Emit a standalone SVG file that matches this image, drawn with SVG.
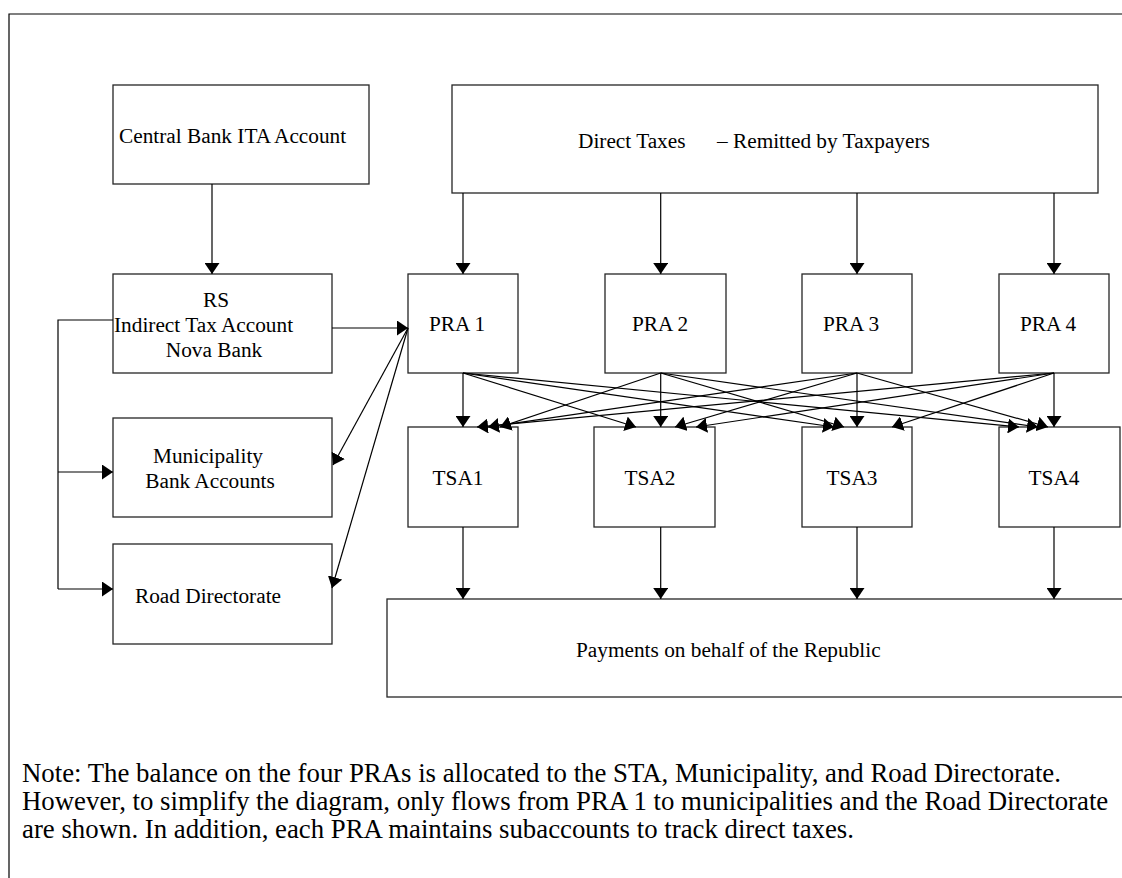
<svg xmlns="http://www.w3.org/2000/svg" width="1122" height="878" viewBox="0 0 1122 878">
<defs>
<marker id="ah" markerUnits="userSpaceOnUse" markerWidth="12" markerHeight="15" refX="11" refY="7.5" orient="auto" viewBox="0 0 12 15">
<path d="M0,0 L11,7.5 L0,15 z" fill="#000"/>
</marker>
<style>
.box{fill:#fff;stroke:#262626;stroke-width:1.3}
.t{font-family:"Liberation Serif","Times New Roman",serif;font-size:21.3px;fill:#000}
.tm{text-anchor:middle}
.c{fill:none;stroke:#000;stroke-width:1.2}
.a{marker-end:url(#ah)}
.note{font-family:"Liberation Serif","Times New Roman",serif;font-size:26.8px;fill:#000}
</style>
</defs>
<rect width="1122" height="878" fill="#fff"/>
<g id="frame"><path d="M9,878 V14 H1122" fill="none" stroke="#000" stroke-width="1.2"/></g>

<g id="central-bank"><rect class="box" x="113" y="85" width="256" height="99"/><text class="t" x="119" y="143">Central Bank ITA Account</text></g>
<g id="direct-taxes"><rect class="box" x="452" y="85" width="646" height="108"/><text class="t" x="578" y="148">Direct Taxes</text><text class="t" x="717" y="148">– Remitted by Taxpayers</text></g>
<g id="rs"><rect class="box" x="113" y="274" width="219" height="99"/><text class="t tm" x="216" y="307">RS</text><text class="t" x="114" y="332">Indirect Tax Account</text><text class="t tm" x="214" y="357">Nova Bank</text></g>
<g id="municipality"><rect class="box" x="113" y="418" width="219" height="99"/><text class="t tm" x="208" y="463">Municipality</text><text class="t tm" x="210" y="488">Bank Accounts</text></g>
<g id="road"><rect class="box" x="113" y="544" width="219" height="100"/><text class="t tm" x="208" y="603">Road Directorate</text></g>

<g id="pra1"><rect class="box" x="408" y="274" width="110" height="99"/><text class="t tm" x="457" y="331">PRA 1</text></g>
<g id="pra2"><rect class="box" x="605" y="274" width="121" height="99"/><text class="t tm" x="660" y="331">PRA 2</text></g>
<g id="pra3"><rect class="box" x="802" y="274" width="110" height="99"/><text class="t tm" x="851" y="331">PRA 3</text></g>
<g id="pra4"><rect class="box" x="999" y="274" width="110" height="99"/><text class="t tm" x="1048" y="331">PRA 4</text></g>

<g id="tsa1"><rect class="box" x="408" y="427" width="110" height="100"/><text class="t tm" x="458" y="485">TSA1</text></g>
<g id="tsa2"><rect class="box" x="594" y="427" width="121" height="100"/><text class="t tm" x="650" y="485">TSA2</text></g>
<g id="tsa3"><rect class="box" x="802" y="427" width="110" height="100"/><text class="t tm" x="852" y="485">TSA3</text></g>
<g id="tsa4"><rect class="box" x="999" y="427" width="121" height="100"/><text class="t tm" x="1054" y="485">TSA4</text></g>

<g id="payments"><rect class="box" x="387" y="599" width="760" height="98"/><text class="t" x="576" y="657">Payments on behalf of the Republic</text></g>

<g id="connectors">
<line class="c a" x1="212" y1="184" x2="212" y2="274"/>
<line class="c a" x1="463" y1="193" x2="463" y2="274"/>
<line class="c a" x1="660.7" y1="193" x2="660.7" y2="274"/>
<line class="c a" x1="857" y1="193" x2="857" y2="274"/>
<line class="c a" x1="1054" y1="193" x2="1054" y2="274"/>
<line class="c a" x1="332" y1="328" x2="408" y2="328"/>
<line class="c a" x1="408" y1="328" x2="333" y2="465"/>
<line class="c a" x1="408" y1="328" x2="332" y2="588"/>
<path class="c" d="M113,320 H58 V589"/>
<line class="c a" x1="58" y1="472" x2="113" y2="472"/>
<line class="c a" x1="58" y1="589" x2="113" y2="589"/>

<line class="c a" x1="463" y1="373" x2="463" y2="427"/>
<line class="c a" x1="463" y1="373" x2="636" y2="427"/>
<line class="c a" x1="463" y1="373" x2="834" y2="427"/>
<line class="c a" x1="463" y1="373" x2="1019" y2="427"/>

<line class="c a" x1="660.7" y1="373" x2="500" y2="427"/>
<line class="c a" x1="660.7" y1="373" x2="660.7" y2="427"/>
<line class="c a" x1="660.7" y1="373" x2="844" y2="427"/>
<line class="c a" x1="660.7" y1="373" x2="1038" y2="427"/>

<line class="c a" x1="857" y1="373" x2="488" y2="427"/>
<line class="c a" x1="857" y1="373" x2="675" y2="427"/>
<line class="c a" x1="857" y1="373" x2="857" y2="427"/>
<line class="c a" x1="857" y1="373" x2="1048" y2="427"/>

<line class="c a" x1="1054" y1="373" x2="477" y2="427"/>
<line class="c a" x1="1054" y1="373" x2="696" y2="427"/>
<line class="c a" x1="1054" y1="373" x2="892" y2="427"/>
<line class="c a" x1="1054" y1="373" x2="1054" y2="427"/>

<line class="c a" x1="463" y1="527" x2="463" y2="599"/>
<line class="c a" x1="660.7" y1="527" x2="660.7" y2="599"/>
<line class="c a" x1="857" y1="527" x2="857" y2="599"/>
<line class="c a" x1="1054" y1="527" x2="1054" y2="599"/>
</g>

<g id="note">
<text class="note" x="22" y="782">Note: The balance on the four PRAs is allocated to the STA, Municipality, and Road Directorate.</text>
<text class="note" x="22" y="810">However, to simplify the diagram, only flows from PRA 1 to municipalities and the Road Directorate</text>
<text class="note" x="22" y="838">are shown. In addition, each PRA maintains subaccounts to track direct taxes.</text>
</g>
</svg>
